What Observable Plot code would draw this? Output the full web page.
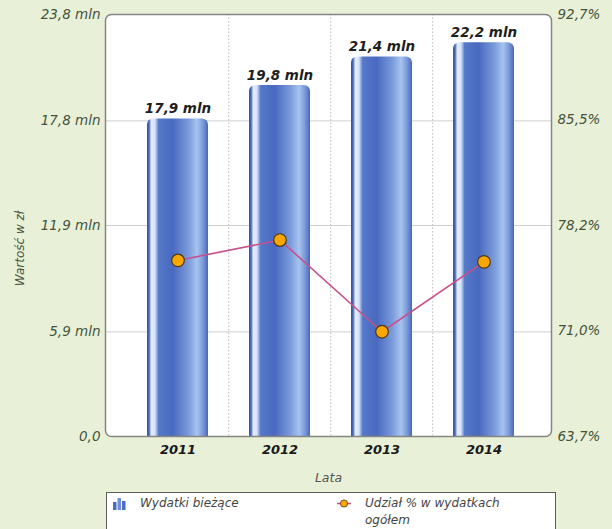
<!DOCTYPE html>
<html>
<head>
<meta charset="utf-8">
<script src="https://cdn.jsdelivr.net/npm/d3@7"></script>
<script src="https://cdn.jsdelivr.net/npm/@observablehq/plot@0.6"></script>
<style>
  html, body { margin: 0; padding: 0; background: #e9f0d8; overflow: hidden; }
  body { font-family: "DejaVu Sans", Verdana, sans-serif; }
  #chart { position: relative; width: 612px; height: 529px; }
  #chart svg.plot { display: block; }
  .legend {
    position: absolute; left: 106px; top: 492px; width: 450px; height: 60px;
    background: #fff; border: 1.5px solid #5c5c5c; box-sizing: border-box;
    font-style: italic; font-size: 12px; color: #444;
  }
  .legend .item { position: absolute; top: 2px; display: flex; align-items: flex-start; }
  .legend .item svg { margin-top: 2px; margin-right: 14px; flex: none; }
  .legend .item span { line-height: 17px; }
</style>
</head>
<body>
<div id="chart"></div>
<script>
// Current spending per year (millions of zł) and its share in total spending (%)
const years = ["2011", "2012", "2013", "2014"];
const spending = [17.9, 19.8, 21.4, 22.2];
const share = [75.8, 77.2, 70.9, 75.7];

// Tick values of the two vertical axes
const leftTicks = [0, 5.9, 11.9, 17.8, 23.8];
const rightTicks = [63.7, 71.0, 78.2, 85.5, 92.7];

// Legend labels
const legendSpending = "Wydatki bieżące";
const legendShare = "Udział % w wydatkach ogółem";

const yMax = 23.8;
const pMin = 63.7, pMax = 92.7;
// Map percentages onto the shared y scale (and back for the right axis)
const toY = p => (p - pMin) / (pMax - pMin) * yMax;
const fromY = v => pMin + v / yMax * (pMax - pMin);
const comma = v => v.toFixed(1).replace(".", ",");

const rows = years.map((year, i) => ({year, spending: spending[i], share: share[i]}));

const W = 612, H = 490;
const mL = 105, mR = 61, mT = 14, mB = 54;
const insL = 20.5, insR = 15, padIn = 0.4, padOut = 0.2;
const step = (W - mL - mR - insL - insR) / (years.length - padIn + 2 * padOut);

// Cylinder-like horizontal gradient for the bars
const gradient = () => {
  const defs = d3.create("svg:defs");
  const g = defs.append("linearGradient").attr("id", "cyl")
    .attr("x1", 0).attr("x2", 1).attr("y1", 0).attr("y2", 0);
  [[0, "#34539c"], [0.035, "#4a6bbb"], [0.07, "#e4edfc"], [0.13, "#d6e3f9"],
   [0.19, "#5679c9"], [0.42, "#4869bf"], [0.68, "#7b9bdb"], [0.82, "#a6c4ee"],
   [0.92, "#7898d9"], [1, "#4867b8"]]
    .forEach(([o, c]) => g.append("stop").attr("offset", o).attr("stop-color", c));
  return defs.node();
};

const plot = Plot.plot({
  width: W, height: H,
  marginLeft: mL, marginRight: mR, marginTop: mT, marginBottom: mB,
  style: {background: "transparent", fontFamily: "DejaVu Sans, Verdana, sans-serif", fontStyle: "italic", overflow: "visible"},
  x: {domain: years, paddingInner: padIn, paddingOuter: padOut, insetLeft: insL, insetRight: insR, label: null},
  y: {domain: [0, yMax], label: null},
  marks: [
    gradient,
    Plot.frame({fill: "white", stroke: "none", rx: 6}),
    Plot.gridY(leftTicks.slice(1, -1), {stroke: "#cfcfcf", strokeOpacity: 1}),
    Plot.ruleX(years.slice(1), {dx: -step / 2, stroke: "#bdbdbd", strokeDasharray: "1.5,2"}),
    // rounded top plus a square-cornered body so only the top is rounded
    Plot.barY(rows, {x: "year", y: "spending", fill: "url(#cyl)", rx: 6}),
    Plot.barY(rows, {x: "year", y: "spending", fill: "url(#cyl)", insetTop: 7}),
    Plot.text(rows, {x: "year", y: "spending", text: d => comma(d.spending) + " mln",
      dy: -10, fontWeight: "bold", fontSize: 13.5, fill: "#1e1e1e"}),
    Plot.line(rows, {x: "year", y: d => toY(d.share), stroke: "#c8508e", strokeWidth: 1.6}),
    Plot.dot(rows, {x: "year", y: d => toY(d.share), r: 6.3, fill: "#f9a600", stroke: "#4a3812", strokeWidth: 1.2}),
    Plot.frame({stroke: "#858585", strokeWidth: 1.5, rx: 6}),
    Plot.axisY(leftTicks, {anchor: "left", tickSize: 0, tickPadding: 5, fontSize: 13.5, fill: "#44543c",
      tickFormat: v => v === 0 ? "0,0" : comma(v) + " mln", label: null}),
    Plot.axisY(rightTicks.map(toY), {anchor: "right", tickSize: 0, tickPadding: 6, fontSize: 13.5, fill: "#44543c",
      tickFormat: v => comma(fromY(v)) + "%", label: null}),
    Plot.axisX({tickSize: 0, tickPadding: 8, fontSize: 13, fontWeight: "bold", fill: "#1a1a1a", label: null}),
    Plot.text(["Lata"], {frameAnchor: "bottom", lineAnchor: "middle", textAnchor: "middle", dy: 41, fontSize: 12.5, fill: "#555"}),
    Plot.text(["Wartość w zł"], {frameAnchor: "left", textAnchor: "middle", lineAnchor: "middle",
      dx: -85, dy: 23, rotate: -90, fontSize: 12, fill: "#44543c"})
  ]
});
plot.classList.add("plot");

const chart = document.getElementById("chart");
chart.appendChild(plot);

// Legend box under the chart
const legend = document.createElement("div");
legend.className = "legend";
legend.innerHTML = `
  <div class="item" style="left:6px">
    <svg width="13" height="13" viewBox="0 0 13 13">
      <rect x="0" y="5" width="3.5" height="8" fill="#4b6cc0"/>
      <rect x="4.5" y="1" width="3.5" height="12" fill="#6f90d8"/>
      <rect x="9" y="4" width="3.5" height="9" fill="#4b6cc0"/>
    </svg>
    <span>${legendSpending}</span>
  </div>
  <div class="item" style="left:230px">
    <svg width="14" height="13" viewBox="0 0 14 13">
      <line x1="0" y1="6.5" x2="14" y2="6.5" stroke="#c8508e" stroke-width="1.6"/>
      <circle cx="7" cy="6.5" r="3.6" fill="#f9a600" stroke="#4a3812" stroke-width="0.8"/>
    </svg>
    <span>${legendShare.replace(" ogółem", "<br>ogółem")}</span>
  </div>`;
chart.appendChild(legend);
</script>
</body>
</html>
